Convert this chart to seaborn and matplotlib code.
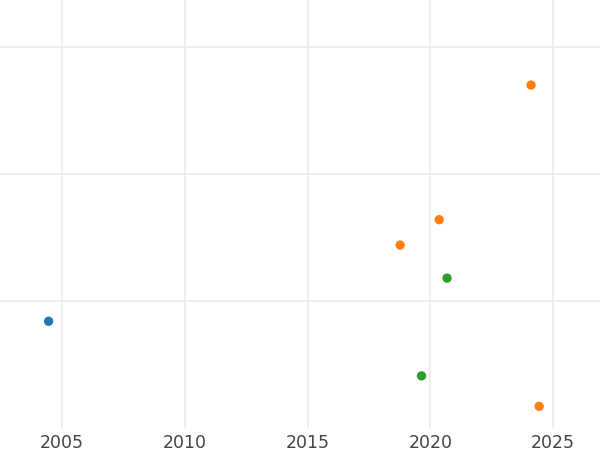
import numpy as np
import pandas as pd
import seaborn as sns
import matplotlib
matplotlib.use("Agg")
import matplotlib.pyplot as plt

# values
years = [2004.45, 2024.10, 2020.36, 2018.77, 2020.68, 2019.64, 2024.43]
values = [-0.16, 1.70, 0.64, 0.44, 0.18, -0.59, -0.83]
groups = ["A", "B", "B", "B", "C", "C", "B"]
x_ticks = [2005, 2010, 2015, 2020, 2025]
y_ticks = [0, 1, 2]

df = pd.DataFrame({"year": years, "value": values, "group": groups})

sns.set_style("whitegrid", {"grid.color": "#ebebeb", "axes.edgecolor": "white"})

fig = plt.figure(figsize=(6, 4.5), dpi=100)
ax = fig.add_axes([0, 0.049, 1, 0.951])
sns.scatterplot(data=df, x="year", y="value", hue="group",
                palette=["#1f77b4", "#ff7f0e", "#2ca02c"],
                hue_order=["A", "B", "C"], s=45, linewidth=0,
                legend=False, ax=ax)

ax.set_xlim(2002.47, 2026.91)
ax.set_ylim(-1.0, 2.37)
ax.set_xticks(x_ticks)
ax.set_yticks(y_ticks)
ax.set_yticklabels([])
ax.grid(True, linewidth=1.2)
ax.tick_params(axis="x", length=0, pad=4, labelsize=12.5, labelcolor="#444444")
ax.tick_params(axis="y", length=0)
ax.set_xlabel("")
ax.set_ylabel("")
for sp in ax.spines.values():
    sp.set_visible(False)

fig.savefig("out.png", dpi=100)
